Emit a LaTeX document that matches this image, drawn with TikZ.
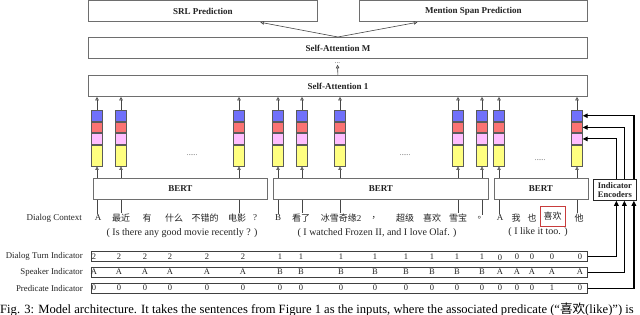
\documentclass[tikz,border=0pt]{standalone}
\usepackage{fontspec}
\setmainfont{Liberation Serif}
\newfontfamily\cjk{Noto Sans CJK SC}
\usetikzlibrary{arrows.meta}
\definecolor{blueblk}{RGB}{112,112,250}
\definecolor{redblk}{RGB}{250,115,115}
\definecolor{pinkblk}{RGB}{255,190,255}
\definecolor{yellowblk}{RGB}{255,255,128}
\definecolor{blkborder}{RGB}{90,90,90}
\definecolor{boxgray}{RGB}{110,110,110}
\definecolor{arrgray}{RGB}{70,70,70}
\definecolor{txtgray}{RGB}{35,35,35}
\definecolor{predred}{RGB}{200,60,60}
\begin{document}
\begin{tikzpicture}[x=1pt,y=-1pt,
  box/.style={draw=boxgray, line width=0.8pt, fill=white, inner sep=0pt, anchor=north west,
    text=txtgray, font=\fontsize{9}{10}\selectfont\bfseries},
  blk/.style={draw=blkborder, line width=0.7pt, minimum width=10.6pt, inner sep=0pt, anchor=north},
  oarrow/.style={draw=arrgray, line width=0.6pt, -{Triangle[open,length=3.5pt,width=3.5pt]}},
  barrow/.style={draw=black, line width=1.2pt, -{Triangle[length=5pt,width=4.5pt]}},
  word/.style={inner sep=1pt, text=txtgray, font=\fontsize{9}{10}\selectfont},
  trans/.style={inner sep=1pt, text=txtgray, font=\fontsize{10}{11}\selectfont},
  rowbox/.style={draw=black!75, line width=0.8pt, anchor=north west, inner sep=0pt, minimum width=496pt, minimum height=10pt},
  rowlab/.style={anchor=east, inner sep=0pt, text=txtgray, font=\fontsize{8.8}{9.5}\selectfont},
  val/.style={inner sep=0pt, text=txtgray, font=\fontsize{8.5}{9.5}\selectfont},
  dotsty/.style={inner sep=0pt, text=arrgray, font=\fontsize{7}{8}\selectfont}
]
\useasboundingbox (0,0) rectangle (640,315);
\clip (0,0) rectangle (640,315);

% top boxes
\node[box, minimum width=229pt, minimum height=21pt] (srl) at (88,0.5) {SRL Prediction};
\node[box, minimum width=228pt, minimum height=21pt] (msp) at (359,0.5) {Mention Span Prediction};
\node[box, minimum width=499pt, minimum height=21pt] (sam) at (88,37) {Self-Attention M};
\node[box, minimum width=499pt, minimum height=21pt] (sa1) at (88,75) {Self-Attention 1};
\draw[oarrow] (sam.north) -- ([xshift=57.5pt]srl.south);
\draw[oarrow] (sam.north) -- ([xshift=-56pt]msp.south);
\node[dotsty, anchor=base, inner sep=1pt] (dm) at (337.5,63.5) {...};
\draw[oarrow] (sa1.north) -- (dm.south);

% BERT boxes and indicator encoder
\node[box, minimum width=174pt, minimum height=21pt] (bert1) at (93,178) {BERT};
\node[box, minimum width=215pt, minimum height=21pt] (bert2) at (273,178) {BERT};
\node[box, minimum width=94pt, minimum height=21pt] (bert3) at (493.5,178) {BERT};
\node[box, draw=black!85, minimum width=43pt, minimum height=21pt, align=center,
  font=\fontsize{8.5}{9}\selectfont\bfseries] (ind) at (593,179) {Indicator\\Encoders};

% words
\foreach \x/\t [count=\k] in {98/A, 121/{\cjk 最近}, 147/{\cjk 有}, 174/{\cjk 什么}, 205/{\cjk 不错的},
  237/{\cjk 电影}, 255/?, 278/B, 301/{\cjk 看了}, 341/{\cjk 冰雪奇缘}2, 376/{\cjk ，}, 405/{\cjk 超级},
  432/{\cjk 喜欢}, 458/{\cjk 雪宝}, 482/{\cjk 。}, 500/A, 516/{\cjk 我}, 532/{\cjk 也}} {
  \node[word] (w\k) at (\x,218) {\t};
}
\node[word, draw=predred, line width=0.9pt, minimum width=25pt, minimum height=20pt, inner sep=0pt] (w19) at (552.5,216) {\cjk 喜欢};
\node[word] (w20) at (579,218) {\cjk 他};
\node[rowlab, font=\fontsize{9}{10}\selectfont] (dc) at (82,218) {Dialog Context};

% translations
\node[trans] (tr1) at (182,233) {( Is there any good movie recently ? )};
\node[trans] (tr2) at (377,233) {( I watched Frozen II, and I love Olaf. )};
\node[trans] (tr3) at (538,232) {( I like it too. )};

% columns
\foreach \x/\bn/\wn [count=\i] in {97/1/1,121/1/2,239/1/6,278/2/8,302/2/9,340/2/10,458/2/14,482/2/15,499/3/16,577/3/20} {
  \node[blk, fill=blueblk, minimum height=10.8pt] (b\i) at (\x,110) {};
  \node[blk, fill=redblk, minimum height=10.5pt] (r\i) at (\x,121.8) {};
  \node[blk, fill=pinkblk, minimum height=10.5pt] (p\i) at (\x,133.3) {};
  \node[blk, fill=yellowblk, minimum height=21pt] (y\i) at (\x,144.8) {};
  \draw[oarrow] (b\i.north) -- (b\i.north |- sa1.south);
  \draw[oarrow] (y\i.south |- bert\bn.north) -- (y\i.south);
  \draw[line width=0.7pt, arrgray] (y\i.south |- bert\bn.south) -- (y\i.south |- w\wn.north);
}
\node[dotsty] (d1) at (192,155) {......};
\node[dotsty] (d2) at (405,155) {......};
\node[dotsty] (d3) at (540,160) {......};

% indicator rows
\node[rowbox] (row1) at (91,251.5) {};
\node[rowbox] (row2) at (91,267) {};
\node[rowbox] (row3) at (91,283) {};
\node[rowlab] (lab1) at (83,256.5) {Dialog Turn Indicator};
\node[rowlab] (lab2) at (83,272) {Speaker Indicator};
\node[rowlab] (lab3) at (83,288) {Predicate Indicator};

\foreach \x/\a/\b/\c/\s [count=\k] in {94/2/A/0/0,119/2/A/0/0,145/2/A/0/0,170/2/A/0/0,207/2/A/0/0,243/2/A/0/0,
  280/1/B/0/0,301/1/B/0/0,341/1/B/0/0,375/1/B/0/0,406/1/B/0/0,432/1/B/0/0,457/1/B/0/0,482/1/B/0/0,
  500/0/A/0/1.5,517/0/A/0/0,532/0/A/0/0,552/0/A/1/0,580/0/A/0/0} {
  \node[val] (va\k) at (\x,256.5+\s) {\a};
  \node[val] (vb\k) at (\x,272) {\b};
  \node[val] (vc\k) at (\x,288) {\c};
}

% indicator connectors
\draw[barrow] (row1.east) -| ([xshift=1.5pt]ind.south);
\draw[barrow] (row2.east) -| ([xshift=9.5pt]ind.south);
\draw[barrow] (row3.east) -| ([xshift=19pt]ind.south);
\draw[barrow] ([xshift=1.5pt]ind.north) |- (p10.east);
\draw[barrow] ([xshift=9.5pt]ind.north) |- (r10.east);
\draw[barrow] ([xshift=19pt]ind.north) |- (b10.east);

% caption (cut off at the bottom edge)
\node[anchor=base west, inner sep=0pt, text=black, font=\fontsize{12.6}{13}\selectfont] (cap) at (0,313.5)
  {Fig. 3: Model architecture. It takes the sentences from Figure 1 as the inputs, where the associated predicate (“{\cjk 喜欢}(like)”) is};
\end{tikzpicture}
\end{document}
